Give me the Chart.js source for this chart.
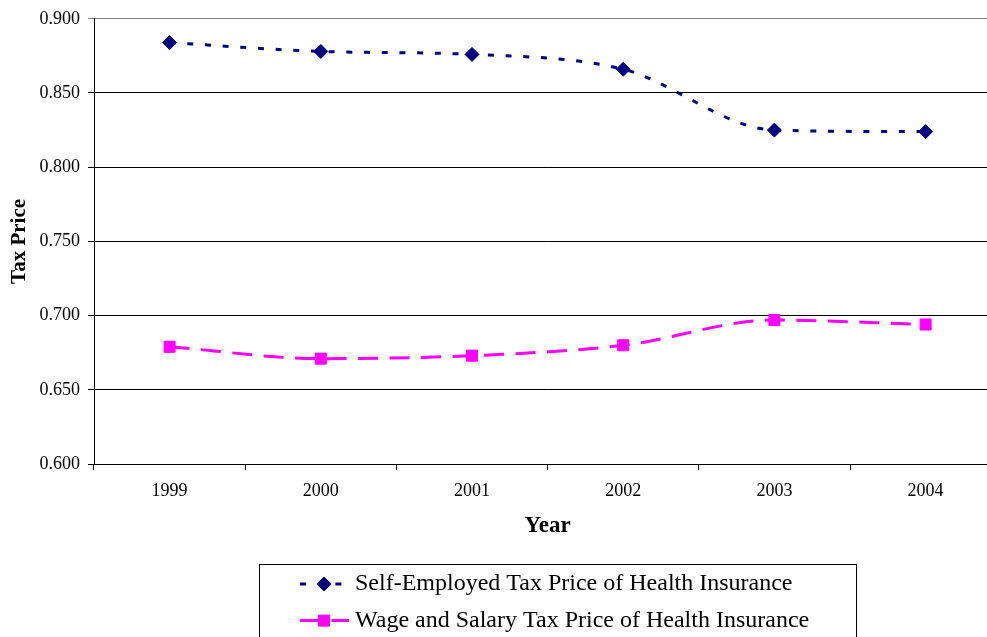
<!DOCTYPE html>
<html>
<head>
<meta charset="utf-8">
<title>Tax Price of Health Insurance</title>
<script src="https://cdn.jsdelivr.net/npm/chart.js@4"></script>
<style>
  html, body { margin: 0; padding: 0; background: #fff; overflow: hidden; }
  #wrap { position: absolute; left: 0; top: 0; width: 1010px; height: 637px; }
</style>
</head>
<body>
<div id="wrap"><canvas id="chart" width="1010" height="637"></canvas></div>
<script>
// Categories and series
const years = ['1999', '2000', '2001', '2002', '2003', '2004'];
const selfEmployed = [0.884, 0.878, 0.876, 0.866, 0.825, 0.824];
const wageSalary = [0.679, 0.671, 0.673, 0.680, 0.697, 0.694];
const seriesLabels = [
  'Self-Employed Tax Price of Health Insurance',
  'Wage and Salary Tax Price of Health Insurance'
];
const yMin = 0.600, yMax = 0.900, yStep = 0.050;

const SERIF = "'Liberation Serif', 'Times New Roman', serif";

// Boxed two-row legend under the plot
const boxedLegend = {
  id: 'boxedLegend',
  afterDraw(chart) {
    const ctx = chart.ctx;
    ctx.save();
    ctx.strokeStyle = '#000';
    ctx.lineWidth = 1;
    ctx.setLineDash([]);
    ctx.strokeRect(259.5, 564.5, 597, 100);
    chart.data.datasets.forEach((ds, i) => {
      const y = 584 + i * 36.6;
      ctx.save();
      ctx.strokeStyle = ds.borderColor;
      ctx.lineWidth = ds.borderWidth;
      ctx.setLineDash(ds.borderDash);
      ctx.beginPath();
      ctx.moveTo(300, y);
      ctx.lineTo(349, y);
      ctx.stroke();
      ctx.restore();
      ctx.save();
      ctx.fillStyle = ds.pointBackgroundColor;
      ctx.strokeStyle = ds.pointBorderColor;
      ctx.lineWidth = ds.pointBorderWidth;
      ctx.setLineDash([]);
      Chart.helpers.drawPoint(ctx, {
        pointStyle: ds.pointStyle, radius: ds.pointRadius,
        borderWidth: ds.pointBorderWidth, rotation: 0
      }, 324, y);
      ctx.restore();
      ctx.fillStyle = '#000';
      ctx.font = '24px ' + SERIF;
      ctx.textBaseline = 'middle';
      ctx.textAlign = 'left';
      ctx.fillText(ds.label, 355, y);
    });
    ctx.restore();
  }
};

new Chart(document.getElementById('chart'), {
  type: 'line',
  data: {
    labels: years,
    datasets: [
      {
        label: seriesLabels[0],
        data: selfEmployed,
        borderColor: '#000080',
        borderWidth: 3,
        borderDash: [6, 11.7],
        cubicInterpolationMode: 'monotone',
        tension: 0.3,
        pointStyle: 'rectRot',
        pointRadius: 7,
        pointBorderWidth: 1,
        pointBackgroundColor: '#000080',
        pointBorderColor: '#000080',
        fill: false
      },
      {
        label: seriesLabels[1],
        data: wageSalary,
        borderColor: '#FF00FF',
        borderWidth: 3,
        borderDash: [20, 11.5],
        cubicInterpolationMode: 'monotone',
        tension: 0.3,
        pointStyle: 'rect',
        pointRadius: 7.8,
        pointBorderWidth: 1,
        pointBackgroundColor: '#FF00FF',
        pointBorderColor: '#FF00FF',
        fill: false
      }
    ]
  },
  options: {
    responsive: false,
    animation: false,
    devicePixelRatio: 1,
    layout: { padding: { top: 17, right: 7, bottom: 93, left: 0 } },
    plugins: {
      legend: { display: false },
      tooltip: { enabled: false }
    },
    scales: {
      x: {
        offset: true,
        grid: {
          offset: true,
          drawOnChartArea: false,
          drawTicks: true,
          tickLength: 6,
          color: '#000'
        },
        border: { color: '#000', width: 1 },
        ticks: {
          color: '#000',
          font: { family: SERIF, size: 18 },
          padding: 10,
          maxRotation: 0
        },
        title: {
          display: true,
          text: 'Year',
          color: '#000',
          font: { family: SERIF, size: 23, weight: 'bold' },
          padding: { top: 0, bottom: 4 }
        },
        afterFit(scale) { scale.height = 80; }
      },
      y: {
        min: yMin,
        max: yMax,
        grid: {
          color: (c) => (c.tick && Math.abs(c.tick.value - yMax) < 1e-9) ? '#808080' : '#000',
          drawTicks: true,
          tickLength: 6
        },
        border: { color: '#000', width: 1 },
        ticks: {
          stepSize: yStep,
          color: '#000',
          font: { family: SERIF, size: 18 },
          padding: 8,
          callback: (v) => Number(v).toFixed(3)
        },
        title: {
          display: true,
          text: 'Tax Price',
          color: '#000',
          font: { family: SERIF, size: 21, weight: 'bold' },
          padding: { top: 7, bottom: 0 }
        },
        afterFit(scale) { scale.width = 94; }
      }
    }
  },
  plugins: [boxedLegend]
});
</script>
</body>
</html>
